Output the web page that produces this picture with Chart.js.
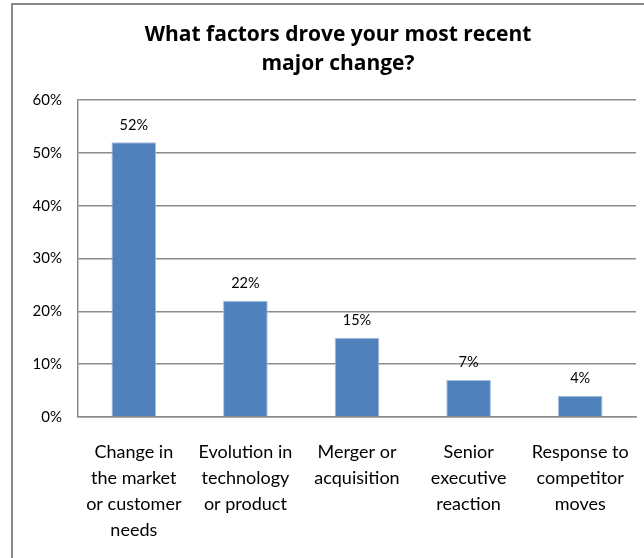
<!DOCTYPE html>
<html>
<head>
<meta charset="utf-8">
<script src="https://cdn.jsdelivr.net/npm/chart.js@4/dist/chart.umd.min.js"></script>
<style>
html,body{margin:0;padding:0;background:#fff;}
#wrap{width:644px;height:558px;position:relative;}
</style>
</head>
<body>
<div id="wrap"><canvas id="c" width="644" height="558"></canvas></div>
<script>
const categories = [
  ["Change in", "the market", "or customer", "needs"],
  ["Evolution in", "technology", "or product"],
  ["Merger or", "acquisition"],
  ["Senior", "executive", "reaction"],
  ["Response to", "competitor", "moves"]
];
const values = [52, 22, 15, 7, 4];
const yTicks = [0, 10, 20, 30, 40, 50, 60];
const titleLines = ["What factors drove your most recent", "major change?"];

const FONT = "Lato, 'Liberation Sans', sans-serif";
const TFONT = "'Open Sans', Lato, sans-serif";

const framePlugin = {
  id: 'frame',
  beforeDraw(chart) {
    const ctx = chart.ctx;
    ctx.save();
    ctx.fillStyle = '#fff';
    ctx.fillRect(0, 0, chart.width, chart.height);
    ctx.strokeStyle = '#8a8a8a';
    ctx.lineWidth = 2;
    ctx.beginPath();
    ctx.moveTo(12, chart.height);
    ctx.lineTo(12, 4);
    ctx.lineTo(chart.width, 4);
    ctx.stroke();
    ctx.restore();
  }
};

const titlePlugin = {
  id: 'chartTitle',
  afterDraw(chart) {
    const ctx = chart.ctx;
    ctx.save();
    ctx.fillStyle = '#000';
    ctx.font = "bold 21px " + TFONT;
    ctx.textAlign = 'center';
    ctx.textBaseline = 'middle';
    const cx = (12 + chart.width + 20) / 2;
    titleLines.forEach((t, i) => ctx.fillText(t, cx, 35 + i * 29));
    ctx.restore();
  }
};

const labelPlugin = {
  id: 'barLabels',
  afterDatasetsDraw(chart) {
    const ctx = chart.ctx;
    const meta = chart.getDatasetMeta(0);
    ctx.save();
    ctx.fillStyle = '#000';
    ctx.font = "14.5px " + FONT;
    ctx.textAlign = 'center';
    ctx.textBaseline = 'bottom';
    meta.data.forEach((bar, i) => {
      ctx.fillText(values[i] + '%', bar.x, bar.y - 10);
    });
    ctx.restore();
  }
};

new Chart(document.getElementById('c'), {
  type: 'bar',
  data: {
    labels: categories,
    datasets: [{
      data: values,
      backgroundColor: '#4F81BD',
      borderColor: '#A7C0DE',
      borderWidth: 1,
      barPercentage: 0.4,
      categoryPercentage: 1.0
    }]
  },
  options: {
    responsive: false,
    animation: false,
    devicePixelRatio: 1,
    layout: { padding: { left: 0, right: 8, top: 100, bottom: 0 } },
    plugins: {
      legend: { display: false },
      tooltip: { enabled: false },
      title: { display: false }
    },
    scales: {
      x: {
        grid: { display: false, drawTicks: false },
        border: { display: true, color: '#8c8c8c', width: 1.5 },
        ticks: {
          color: '#000',
          font: { family: FONT, size: 18, lineHeight: 1.45 },
          padding: 22,
          maxRotation: 0,
          autoSkip: false
        },
        afterFit(scale) { scale.height = 141; scale.paddingLeft = 0; scale.paddingRight = 0; }
      },
      y: {
        min: 0,
        max: 60,
        afterBuildTicks(scale) { scale.ticks = yTicks.map(v => ({ value: v })); },
        grid: { color: '#8c8c8c', lineWidth: 1.5, drawTicks: false },
        border: { display: true, color: '#8c8c8c', width: 1.5 },
        ticks: {
          color: '#000',
          font: { family: FONT, size: 15 },
          padding: 16,
          callback: v => v + '%'
        },
        afterFit(scale) { scale.width = 78; scale.paddingTop = 0; scale.paddingBottom = 0; }
      }
    }
  },
  plugins: [framePlugin, titlePlugin, labelPlugin]
});
</script>
</body>
</html>
